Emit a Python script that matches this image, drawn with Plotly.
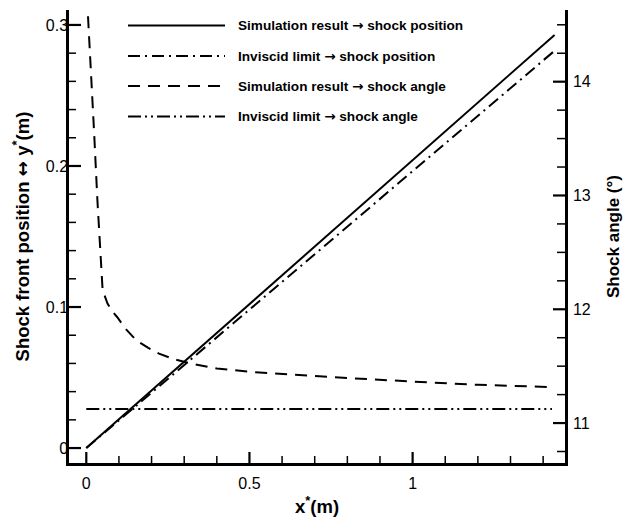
import plotly.graph_objects as go

# ---------------- data ----------------
pos_sim_x = [0.0, 1.435]
pos_sim_y = [0.0, 0.2929]

pos_inv_x = [0.0, 1.432]
pos_inv_y = [0.0, 0.2811]

ang_sim_x = [0.002, 0.0135, 0.024, 0.034, 0.044, 0.05, 0.065, 0.08, 0.095, 0.12, 0.152,
             0.19, 0.223, 0.27, 0.326, 0.4, 0.5, 0.65, 0.807, 1.0, 1.2, 1.432]
ang_sim_y = [14.75, 14.16, 13.55, 12.96, 12.43, 12.17, 12.05, 11.98, 11.93, 11.83, 11.73,
             11.66, 11.61, 11.56, 11.52, 11.48, 11.45, 11.42, 11.395, 11.365, 11.336, 11.316]

ang_inv_x = [0.0, 1.427]
ang_inv_y = [11.123, 11.123]

# tick values
x_major = [0, 0.5, 1]
x_minor = [0.1, 0.2, 0.3, 0.4, 0.6, 0.7, 0.8, 0.9, 1.1, 1.2, 1.3, 1.4]
y_major = [0, 0.1, 0.2, 0.3]
y_minor = [0.02, 0.04, 0.06, 0.08, 0.12, 0.14, 0.16, 0.18, 0.22, 0.24, 0.26, 0.28]
y2_major = [11, 12, 13, 14]
y2_minor = [10.75, 11.25, 11.5, 11.75, 12.25, 12.5, 12.75, 13.25, 13.5, 13.75, 14.25, 14.5]

ARROW = "<span style=\"font-family:'DejaVu Sans'\">\u2192</span>"
legend_labels = [
    "Simulation result " + ARROW + " shock position",
    "Inviscid limit " + ARROW + " shock position",
    "Simulation result " + ARROW + " shock angle",
    "Inviscid limit " + ARROW + " shock angle",
]

# ---------------- styling ----------------
W, H = 628, 517
L, R, T, B = 69, 63, 10, 54
XR = [-0.053, 1.467]
YR = [-0.0106, 0.3106]
Y2R = [10.649, 14.63]
FONT = "Liberation Sans"
dash_solid = "solid"
dash_dd = "12px,5px,2px,5px"
dash_long = "12px,8px"
dash_ddd = "13px,4px,2px,4px,2px,4px"
styles = [dash_solid, dash_dd, dash_long, dash_ddd]

fig = go.Figure()
fig.add_trace(go.Scatter(x=pos_sim_x, y=pos_sim_y, mode="lines",
                         line=dict(color="black", width=2, dash=dash_solid), showlegend=False))
fig.add_trace(go.Scatter(x=pos_inv_x, y=pos_inv_y, mode="lines",
                         line=dict(color="black", width=2, dash=dash_dd), showlegend=False))
fig.add_trace(go.Scatter(x=ang_sim_x, y=ang_sim_y, mode="lines", yaxis="y2",
                         line=dict(color="black", width=2, dash=dash_long), showlegend=False))
fig.add_trace(go.Scatter(x=ang_inv_x, y=ang_inv_y, mode="lines", yaxis="y2",
                         line=dict(color="black", width=2, dash=dash_ddd), showlegend=False))

pw = W - L - R
ph = H - T - B


def px2x(px):
    return (px - L) / pw


def px2y(py):
    return (H - B - py) / ph


def frac(v, rng):
    return (v - rng[0]) / (rng[1] - rng[0])


shapes = []
annotations = []

# inside tick marks drawn as paper-referenced shapes
for vals, ln, wd in [(x_major, 11, 2.2), (x_minor, 7, 1.5)]:
    for v in vals:
        f = frac(v, XR)
        shapes.append(dict(type="line", xref="paper", yref="paper", x0=f, x1=f, y0=0, y1=ln / ph,
                           line=dict(color="black", width=wd)))
for vals, ln, wd in [(y_major, 12, 2.2), (y_minor, 7, 1.5)]:
    for v in vals:
        f = frac(v, YR)
        shapes.append(dict(type="line", xref="paper", yref="paper", x0=0, x1=ln / pw, y0=f, y1=f,
                           line=dict(color="black", width=wd)))
for vals, ln, wd in [(y2_major, 12, 2.2), (y2_minor, 8, 1.5)]:
    for v in vals:
        f = frac(v, Y2R)
        shapes.append(dict(type="line", xref="paper", yref="paper", x0=1, x1=1 - ln / pw, y0=f, y1=f,
                           line=dict(color="black", width=wd)))

# legend drawn manually
rows = [25.5, 56, 86, 116.5]
for lab, st, ry in zip(legend_labels, styles, rows):
    shapes.append(dict(type="line", xref="paper", yref="paper",
                       x0=px2x(128), x1=px2x(225), y0=px2y(ry), y1=px2y(ry),
                       line=dict(color="black", width=2, dash=st)))
    annotations.append(dict(text=lab, xref="paper", yref="paper", x=px2x(236), y=px2y(ry),
                            xanchor="left", yanchor="middle", showarrow=False,
                            font=dict(family=FONT, size=13.6, color="black", weight="bold")))

tickfont = dict(family=FONT, size=16, color="black")


def titlefont(sz):
    return dict(family=FONT, size=sz, color="black", weight="bold")


def axis_common():
    return dict(showgrid=False, zeroline=False, automargin=False,
                showline=True, linecolor="black", linewidth=2.5,
                ticks="", tickfont=dict(tickfont))


xa = axis_common()
xa.update(range=XR, tickvals=x_major, ticktext=["0", "0.5", "1"],
          ticklabelstandoff=4,
          title=dict(text="x<sup>*</sup>(m)", font=titlefont(18.5), standoff=12))
ya = axis_common()
ya.update(range=YR, tickvals=y_major, ticktext=["0", "0.1", "0.2", "0.3"],
          ticklabelstandoff=-5,
          title=dict(text="Shock front position <span style=\"font-family:'DejaVu Sans'\">\u2194</span> y<sup>*</sup>(m)",
                     font=titlefont(18.5), standoff=12))
ya2 = axis_common()
ya2.update(range=Y2R, tickvals=y2_major, ticktext=["11", "12", "13", "14"],
           overlaying="y", side="right", ticklabelstandoff=2,
           title=dict(text="Shock angle (\u00b0)", font=titlefont(17), standoff=18))

fig.update_layout(
    template="none",
    width=W, height=H,
    margin=dict(l=L, r=R, t=T, b=B),
    plot_bgcolor="white", paper_bgcolor="white",
    shapes=shapes, annotations=annotations,
    xaxis=xa, yaxis=ya, yaxis2=ya2,
)

fig.write_html("out.html")
